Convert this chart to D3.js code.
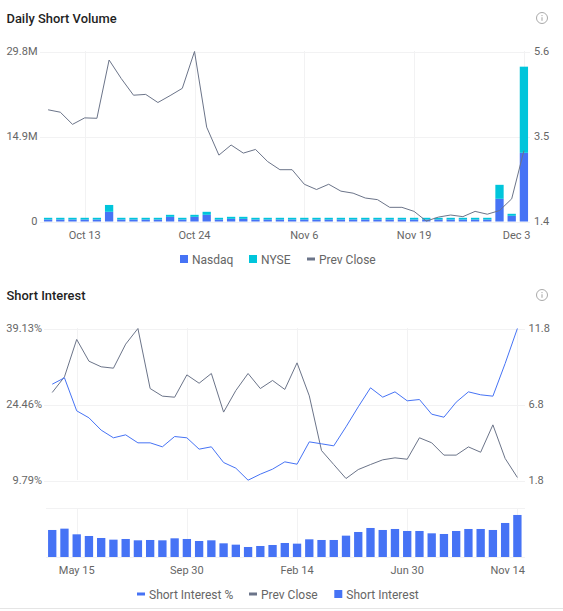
<!DOCTYPE html>
<html>
<head>
<meta charset="utf-8">
<script src="https://cdn.jsdelivr.net/npm/d3@7"></script>
<style>
  html, body { margin: 0; padding: 0; background: #fff; }
  svg { display: block; font-family: Roboto, sans-serif; }
</style>
</head>
<body>
<svg id="chart" width="563" height="611"></svg>
<script>
// daily short volume
const dailyDates = ["2025-10-08","2025-10-09","2025-10-10","2025-10-13","2025-10-14","2025-10-15","2025-10-16","2025-10-17","2025-10-20","2025-10-21","2025-10-22","2025-10-23","2025-10-24","2025-10-27","2025-10-28","2025-10-29","2025-10-30","2025-10-31","2025-11-03","2025-11-04","2025-11-05","2025-11-06","2025-11-07","2025-11-10","2025-11-11","2025-11-12","2025-11-13","2025-11-14","2025-11-17","2025-11-18","2025-11-19","2025-11-20","2025-11-21","2025-11-24","2025-11-25","2025-11-26","2025-11-28","2025-12-01","2025-12-02","2025-12-03"];
const nasdaq = [.35,.35,.35,.35,.35,1.7,.35,.35,.35,.35,.82,.35,.82,1.17,.35,.47,.47,.35,.35,.35,.35,.35,.35,.35,.35,.35,.35,.35,.35,.35,.35,.35,.35,.35,.35,.35,.35,3.98,1.0,12.04];
const nyse = [.3,.3,.3,.3,.3,1.2,.3,.3,.3,.3,.35,.3,.35,.53,.3,.35,.35,.3,.3,.3,.3,.3,.3,.3,.3,.3,.3,.3,.3,.3,.3,.3,.3,.3,.3,.3,.3,2.45,.35,15.1];
const dailyClose = [4.16,4.10,3.80,3.96,3.95,5.39,4.93,4.52,4.54,4.34,4.51,4.69,5.6,3.73,3.04,3.29,3.09,3.18,2.88,2.68,2.68,2.32,2.19,2.32,2.15,2.10,1.98,1.94,1.75,1.75,1.65,1.41,1.51,1.56,1.52,1.65,1.58,1.67,1.96,3.15];
const dailyTicks = ["2025-10-13","2025-10-24","2025-11-06","2025-11-19","2025-12-03"];

// short interest
const siDates = ["2024-04-15","2024-04-30","2024-05-15","2024-05-30","2024-06-13","2024-06-30","2024-07-15","2024-07-31","2024-08-15","2024-08-29","2024-09-15","2024-09-30","2024-10-15","2024-10-31","2024-11-14","2024-11-28","2024-12-13","2024-12-31","2025-01-15","2025-01-31","2025-02-14","2025-02-28","2025-03-14","2025-03-31","2025-04-15","2025-04-30","2025-05-15","2025-05-30","2025-06-13","2025-06-30","2025-07-15","2025-07-31","2025-08-15","2025-08-29","2025-09-15","2025-09-30","2025-10-15","2025-10-31","2025-11-14"];
const siPercent = [28.38,29.61,23.24,21.89,19.51,18.03,18.60,17.06,17.06,16.29,18.28,18.03,15.84,16.29,13.26,12.17,9.85,11.01,11.98,13.39,12.94,17.25,16.87,16.48,20.15,24.01,27.68,25.88,26.90,25.17,25.42,22.59,22.01,24.91,26.90,26.33,26.07,32.37,39.13];
const siClose = [7.59,8.62,11.08,9.65,9.28,9.19,10.77,11.8,7.85,7.35,7.28,8.75,8.20,8.84,6.30,7.72,8.84,7.85,8.38,7.79,9.54,7.37,3.77,2.85,1.93,2.52,2.85,3.16,3.29,3.20,4.61,4.28,3.47,3.47,4.01,3.66,5.46,3.25,2.00];
const siShares = [8.1,8.5,6.8,6.3,5.7,5.2,5.4,5.0,5.1,5.0,5.6,5.4,4.8,5.0,4.1,3.7,3.0,3.3,3.6,4.2,4.0,5.3,5.1,5.1,6.4,7.5,8.7,8.1,8.4,7.8,7.8,7.1,6.9,7.8,8.4,8.4,8.1,10.2,12.6];
const siTicks = ["2024-05-15","2024-09-30","2025-02-14","2025-06-30","2025-11-14"];

const volumeTicks = [0, 14.9, 29.8], volumeLabels = ["0", "14.9M", "29.8M"];
const dailyCloseTicks = [1.4, 3.5, 5.6];
const percentTicks = [9.79, 24.46, 39.13];
const siCloseTicks = [1.8, 6.8, 11.8];

const blue = "#4673f5", cyan = "#00c5db", slate = "#6b7489";
const gridColor = "#f2f2f3", labelColor = "#666";

const parse = d3.utcParse("%Y-%m-%d");
const fmt = d => d3.utcFormat("%b %-d")(parse(d));

const svg = d3.select("#chart");

function title(text, y) {
  svg.append("text").attr("x", 6.5).attr("y", y)
    .attr("font-size", 12.9).attr("font-weight", 500).attr("fill", "#1f1f1f")
    .text(text);
}

function infoIcon(cx, cy) {
  const g = svg.append("g").attr("transform", `translate(${cx},${cy})`);
  g.append("circle").attr("r", 5.5).attr("fill", "none").attr("stroke", "#aaa").attr("stroke-width", 1);
  g.append("circle").attr("cy", -2.4).attr("r", .7).attr("fill", "#aaa");
  g.append("line").attr("y1", -.8).attr("y2", 2.8).attr("stroke", "#aaa").attr("stroke-width", 1.1);
}

function styleAxis(g) {
  g.select(".domain").remove();
  g.selectAll("line").attr("stroke", gridColor);
  g.selectAll("text").attr("fill", labelColor).attr("font-size", 11).attr("font-family", "Roboto, sans-serif");
}

function hGrid(yScale, ticks, x0, x1) {
  svg.append("g").selectAll("line").data(ticks).join("line")
    .attr("x1", x0).attr("x2", x1)
    .attr("y1", d => Math.round(yScale(d)) + .5).attr("y2", d => Math.round(yScale(d)) + .5)
    .attr("stroke", gridColor);
}

function vGrid(x, ticks, y0, y1) {
  svg.append("g").selectAll("line").data(ticks).join("line")
    .attr("x1", d => Math.round(x(d) + x.bandwidth() / 2) + .5)
    .attr("x2", d => Math.round(x(d) + x.bandwidth() / 2) + .5)
    .attr("y1", y0).attr("y2", y1)
    .attr("stroke", gridColor);
}

function legend(items, y) {
  const g = svg.append("g");
  items.forEach(it => {
    if (it.kind === "square") {
      g.append("rect").attr("x", it.x).attr("y", y - 4).attr("width", 8).attr("height", 8).attr("fill", it.color);
    } else {
      g.append("rect").attr("x", it.x).attr("y", y - 1.5).attr("width", 8).attr("height", 3).attr("fill", it.color);
    }
    g.append("text").attr("x", it.x + 12).attr("y", y + 4.5).attr("font-size", 12).attr("fill", labelColor).text(it.label);
  });
}

function drawLine(x, y, dates, values, color) {
  svg.append("path").datum(values)
    .attr("fill", "none").attr("stroke", color).attr("stroke-width", 1)
    .attr("d", d3.line().x((d, i) => x(dates[i]) + x.bandwidth() / 2).y(d => y(d)));
}

// ---- Daily Short Volume
title("Daily Short Volume", 23);
infoIcon(542, 18);

const x1 = d3.scaleBand().domain(dailyDates).range([42, 530]).paddingInner(.32).paddingOuter(.16);
const yVol = d3.scaleLinear().domain([0, 29.8]).range([221.5, 51.5]);
const yClose1 = d3.scaleLinear().domain([1.4, 5.6]).range([221.5, 51.5]);

hGrid(yVol, volumeTicks, 40, 530);
vGrid(x1, dailyTicks, 51, 221);

const stacked = d3.stack().keys([0, 1]).value((i, k) => (k === 0 ? nasdaq : nyse)[i])(d3.range(dailyDates.length));
svg.append("g").selectAll("g").data(stacked).join("g")
  .attr("fill", (d, k) => k === 0 ? blue : cyan)
  .selectAll("rect").data(d => d).join("rect")
  .attr("x", d => x1(dailyDates[d.data]))
  .attr("width", x1.bandwidth())
  .attr("y", d => yVol(d[1]))
  .attr("height", d => yVol(d[0]) - yVol(d[1]));

drawLine(x1, yClose1, dailyDates, dailyClose, slate);

svg.append("g").attr("transform", "translate(37.5,-.4)")
  .call(d3.axisLeft(yVol).tickValues(volumeTicks).tickSize(0).tickPadding(0).tickFormat((d, i) => volumeLabels[i]))
  .call(styleAxis);
svg.append("g").attr("transform", "translate(534,-.4)")
  .call(d3.axisRight(yClose1).tickValues(dailyCloseTicks).tickSize(0).tickPadding(0).tickFormat(d3.format(".1f")))
  .call(styleAxis);
svg.append("g").attr("transform", "translate(0,231)")
  .call(d3.axisBottom(x1).tickValues(dailyTicks).tickSize(0).tickPadding(0).tickFormat(fmt))
  .call(styleAxis)
  .call(g => g.selectAll("text").filter(d => d === "2025-12-03").attr("text-anchor", "end").attr("dx", 6.5));

legend([
  { kind: "square", x: 180, color: blue, label: "Nasdaq" },
  { kind: "square", x: 249, color: cyan, label: "NYSE" },
  { kind: "line", x: 307, color: slate, label: "Prev Close" }
], 259);

// ---- Short Interest
title("Short Interest", 300);
infoIcon(542, 295);

const x2 = d3.scaleBand().domain(siDates).range([46.1, 523.5]).paddingInner(.32).paddingOuter(.16);
const yPct = d3.scaleLinear().domain([9.79, 39.13]).range([480.5, 328.5]);
const yClose2 = d3.scaleLinear().domain([1.8, 11.8]).range([480.5, 328.5]);
const yShares = d3.scaleLinear().domain([0, 14.6]).range([557, 508.3]);

hGrid(yPct, percentTicks, 44, 525);
vGrid(x2, siTicks, 328, 480);
hGrid(yShares, [0, 14.6], 46, 525);
vGrid(x2, siTicks, 508, 557);

drawLine(x2, yClose2, siDates, siClose, slate);
drawLine(x2, yPct, siDates, siPercent, blue);

svg.append("g").selectAll("rect").data(siShares).join("rect")
  .attr("x", (d, i) => x2(siDates[i]))
  .attr("width", x2.bandwidth())
  .attr("y", d => yShares(d))
  .attr("height", d => yShares(0) - yShares(d))
  .attr("fill", blue);

svg.append("g").attr("transform", "translate(42,-.7)")
  .call(d3.axisLeft(yPct).tickValues(percentTicks).tickSize(0).tickPadding(0).tickFormat(d => d.toFixed(2) + "%"))
  .call(styleAxis);
svg.append("g").attr("transform", "translate(528.5,-.7)")
  .call(d3.axisRight(yClose2).tickValues(siCloseTicks).tickSize(0).tickPadding(0).tickFormat(d3.format(".1f")))
  .call(styleAxis);
svg.append("g").attr("transform", "translate(0,566)")
  .call(d3.axisBottom(x2).tickValues(siTicks).tickSize(0).tickPadding(0).tickFormat(fmt))
  .call(styleAxis)
  .call(g => g.selectAll("text").filter(d => d === "2025-11-14").attr("text-anchor", "end").attr("dx", 7.5));

legend([
  { kind: "line", x: 137, color: blue, label: "Short Interest %" },
  { kind: "line", x: 249, color: slate, label: "Prev Close" },
  { kind: "square", x: 334.3, color: blue, label: "Short Interest" }
], 594);

svg.append("line").attr("x1", 0).attr("x2", 563).attr("y1", 608.5).attr("y2", 608.5).attr("stroke", "#e5e5e5");
</script>
</body>
</html>
